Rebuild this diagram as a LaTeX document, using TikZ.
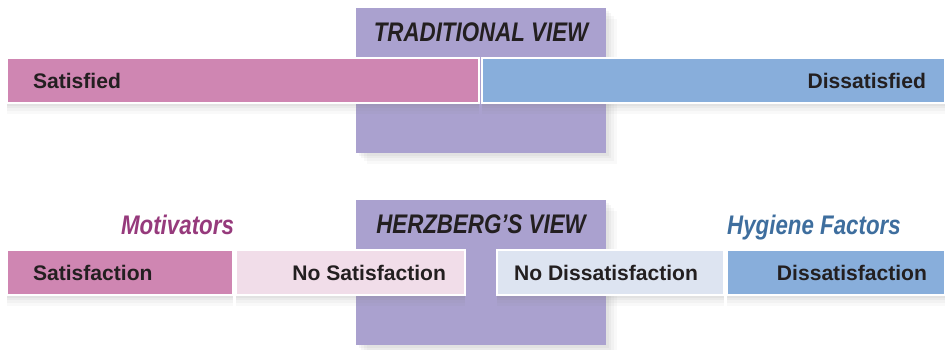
\documentclass[tikz,border=0pt]{standalone}
\usepackage{fontspec}
\setmainfont{Liberation Sans}
\newfontfamily\condfont[FakeStretch=0.83]{Liberation Sans}
\usetikzlibrary{positioning,shadows}
\definecolor{viewpurple}{HTML}{AAA1CF}
\definecolor{barpink}{HTML}{CF86B2}
\definecolor{barblue}{HTML}{88AEDB}
\definecolor{palepink}{HTML}{F1DDE9}
\definecolor{paleblue}{HTML}{DDE4F1}
\definecolor{motivcol}{HTML}{963A7C}
\definecolor{hygcol}{HTML}{3E6E9E}
\definecolor{ink}{HTML}{231F20}

\begin{document}
\begin{tikzpicture}[x=0.02cm,y=-0.02cm,
  softshadow/.style={drop shadow={shadow xshift=#1*1.5pt,shadow yshift=-1.5pt,opacity=0.07},
    drop shadow={shadow xshift=#1*3pt,shadow yshift=-3pt,opacity=0.07},
    drop shadow={shadow xshift=#1*4.5pt,shadow yshift=-4.5pt,opacity=0.06},
    drop shadow={shadow xshift=#1*6pt,shadow yshift=-6pt,opacity=0.05}},
  viewbox/.style={fill=viewpurple,minimum width=5cm,minimum height=2.9cm,inner sep=0,softshadow=1},
  bar/.style={draw=white,line width=1.5pt,minimum height=0.9cm,inner sep=0,softshadow=0},
  lbl/.style={inner sep=0,text=ink,font=\fontsize{12}{14}\selectfont\bfseries},
  head/.style={inner sep=0,text=ink,font=\condfont\fontsize{15.3}{18}\selectfont\bfseries\itshape}]
\useasboundingbox (0,0) rectangle (945,350);
\begin{scope}
\clip (0,0) rectangle (945,350);
\node[viewbox] (tradBox) at (481,80.5) {};
\node[viewbox] (herzBox) at (481,272.5) {};
\node[bar,fill=barpink,minimum width=9.44cm] (satBar) at (243,80.5) {};
\node[bar,fill=barblue,minimum width=9.26cm] (dissatBar) at (713.5,80.5) {};
\node[bar,fill=barpink,minimum width=4.52cm] (motBar) at (120,272.5) {};
\node[bar,fill=palepink,minimum width=4.58cm] (noMotBar) at (350.5,272.5) {};
\node[bar,fill=paleblue,minimum width=4.54cm] (noHygBar) at (610.5,272.5) {};
\node[bar,fill=barblue,minimum width=4.36cm] (hygBar) at (836,272.5) {};
\end{scope}
\node[head,below=0.3cm of tradBox.north] (tradHead) {TRADITIONAL VIEW};
\node[head,below=0.3cm of herzBox.north] (herzHead) {HERZBERG’S VIEW};
\node[head,anchor=base,text=motivcol] (motiv) at (177.5,235) {Motivators};
\node[head,anchor=base,text=hygcol] (hygiene) at (814,235) {Hygiene Factors};
\node[lbl,right=0.54cm of satBar.west] (satisfied) {Satisfied};
\node[lbl,left=0.4cm of dissatBar.east] (dissatisfied) {Dissatisfied};
\node[lbl,right=0.54cm of motBar.west] (satisfaction) {Satisfaction};
\node[lbl,left=0.4cm of noMotBar.east] (noSatisfaction) {No Satisfaction};
\node[lbl,right=0.36cm of noHygBar.west] (noDissatisfaction) {No Dissatisfaction};
\node[lbl,left=0.38cm of hygBar.east] (dissatisfaction) {Dissatisfaction};
\end{tikzpicture}
\end{document}
